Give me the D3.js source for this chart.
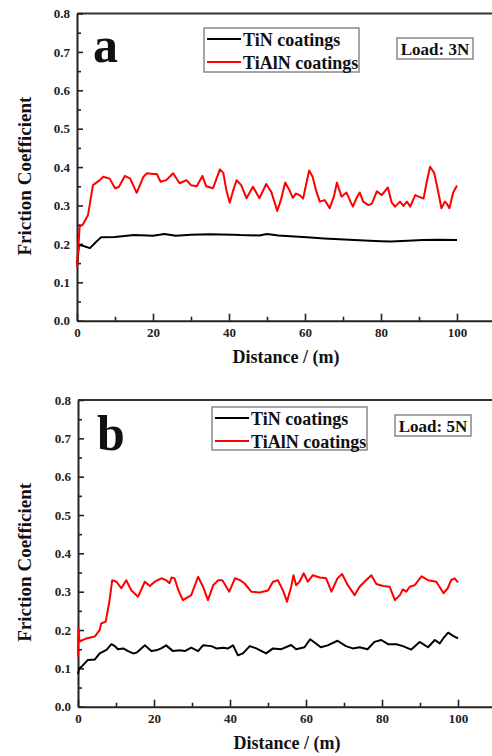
<!DOCTYPE html>
<html>
<head>
<meta charset="utf-8">
<script src="https://cdn.jsdelivr.net/npm/d3@7"></script>
<style>
body { margin:0; background:#fff; }
</style>
</head>
<body>
<div id="chart"></div>
<script>
// Series: distance (m) and friction coefficient
const distA_TiN = [0, 0.5, 1.5, 3.4, 5, 6.3, 10, 15, 20, 23, 26, 30, 35, 41, 43, 48, 50, 53, 60.5, 65, 69, 73, 77, 80, 82.6, 87, 91, 95, 100];
const fricA_TiN = [0.14, 0.197, 0.195, 0.189, 0.205, 0.217, 0.218, 0.223, 0.221, 0.226, 0.221, 0.224, 0.225, 0.224, 0.223, 0.222, 0.226, 0.222, 0.217, 0.214, 0.212, 0.21, 0.208, 0.207, 0.206, 0.208, 0.21, 0.211, 0.21];

const distA_TiAlN = [0, 0.7, 1.5, 2.9, 4.2, 6, 6.9, 8.6, 10, 11, 12.6, 14, 15.7, 17.5, 18.4, 20, 21, 22, 23.5, 25.3, 27, 28.8, 30, 31.5, 33, 34, 35.8, 37.6, 38.5, 39.3, 40.2, 41, 42, 43.2, 44.6, 46.3, 48, 49.8, 51.1, 52.7, 53.7, 54.8, 55.9, 56.8, 57.6, 58.6, 59.5, 60.4, 61.1, 62, 63, 63.9, 65.2, 66.5, 67.6, 68.4, 69.6, 70.9, 71.8, 72.6, 73.5, 74.4, 75.3, 76.7, 77.6, 78.9, 80.2, 81.8, 82.8, 83.7, 85, 85.9, 86.8, 87.7, 89, 89.9, 91.2, 92, 92.9, 94, 95.1, 95.9, 96.8, 97.3, 98, 99, 100];
const fricA_TiAlN = [0.14, 0.245, 0.25, 0.275, 0.353, 0.366, 0.375, 0.37, 0.345, 0.348, 0.377, 0.37, 0.333, 0.375, 0.384, 0.382, 0.382, 0.362, 0.366, 0.384, 0.358, 0.366, 0.353, 0.35, 0.377, 0.35, 0.345, 0.394, 0.385, 0.34, 0.307, 0.336, 0.366, 0.353, 0.319, 0.349, 0.319, 0.356, 0.336, 0.286, 0.316, 0.36, 0.34, 0.32, 0.331, 0.327, 0.318, 0.36, 0.391, 0.375, 0.336, 0.31, 0.314, 0.293, 0.323, 0.36, 0.323, 0.334, 0.314, 0.297, 0.318, 0.334, 0.31, 0.301, 0.305, 0.337, 0.327, 0.347, 0.308, 0.297, 0.31, 0.299, 0.31, 0.297, 0.327, 0.323, 0.318, 0.36, 0.401, 0.385, 0.334, 0.293, 0.31, 0.305, 0.293, 0.334, 0.352];

const distB_TiN = [0, 0.3, 0.9, 2.6, 4.4, 5.7, 7.5, 8.8, 9.7, 10.5, 11.9, 13.2, 14.5, 15.4, 17.6, 19.3, 20.6, 21.9, 23.2, 25, 26.8, 28.1, 29.8, 31.6, 32.9, 35.1, 36.4, 38.2, 39.5, 40.8, 42.1, 43.4, 45.2, 46.9, 49.5, 51.3, 53.5, 56.1, 57.4, 59.6, 61.1, 62.6, 63.9, 65.7, 68.3, 70.5, 72.3, 74.1, 76.2, 78, 79.8, 81.6, 83.8, 85.5, 87.7, 89.9, 92.1, 93.9, 95.2, 96.1, 97.4, 98.7, 100];
const fricB_TiN = [0.085, 0.1, 0.104, 0.122, 0.123, 0.139, 0.148, 0.163, 0.158, 0.15, 0.152, 0.145, 0.139, 0.141, 0.16, 0.145, 0.147, 0.152, 0.16, 0.145, 0.147, 0.145, 0.154, 0.145, 0.16, 0.158, 0.152, 0.154, 0.152, 0.16, 0.134, 0.139, 0.158, 0.152, 0.139, 0.152, 0.15, 0.161, 0.15, 0.155, 0.176, 0.165, 0.155, 0.16, 0.172, 0.158, 0.152, 0.155, 0.15, 0.169, 0.174, 0.163, 0.163, 0.158, 0.149, 0.169, 0.155, 0.174, 0.165, 0.178, 0.193, 0.185, 0.178];

const distB_TiAlN = [0, 0.1, 0.4, 2.2, 4.4, 5.7, 6.1, 7.3, 8.3, 9, 10.1, 11.4, 12.7, 14, 15.8, 17.6, 18.9, 20.2, 21.9, 23.2, 24.1, 24.6, 25.4, 26.4, 27.6, 29.8, 31.6, 32.9, 34.2, 35.6, 36.9, 38, 39.8, 41.3, 42.6, 43.8, 45.6, 47.8, 50, 51.3, 52.6, 53.9, 55, 56.1, 56.7, 57.4, 58.3, 59.4, 60.5, 61.8, 63.6, 65.3, 66.7, 68.3, 69.5, 71, 72.8, 74.1, 75.4, 77.2, 78.5, 80.3, 82, 83.4, 84.7, 85.5, 86.4, 87.3, 88.6, 90.4, 92.1, 94.3, 96.2, 97.3, 98.2, 99.1, 100];
const fricB_TiAlN = [0.13, 0.205, 0.17, 0.178, 0.183, 0.2, 0.217, 0.222, 0.277, 0.33, 0.326, 0.309, 0.33, 0.304, 0.287, 0.326, 0.315, 0.326, 0.335, 0.33, 0.322, 0.337, 0.335, 0.304, 0.278, 0.291, 0.339, 0.313, 0.278, 0.317, 0.33, 0.33, 0.3, 0.335, 0.33, 0.322, 0.3, 0.298, 0.303, 0.326, 0.33, 0.304, 0.274, 0.313, 0.343, 0.317, 0.326, 0.348, 0.326, 0.343, 0.337, 0.335, 0.3, 0.335, 0.346, 0.317, 0.291, 0.313, 0.326, 0.343, 0.32, 0.315, 0.313, 0.278, 0.291, 0.306, 0.3, 0.313, 0.317, 0.34, 0.33, 0.326, 0.296, 0.309, 0.33, 0.335, 0.324];

const seriesNames = ["TiN coatings", "TiAlN coatings"];
const seriesColors = ["#000000", "#ff0000"];
const yTicks = [0, 0.1, 0.2, 0.3, 0.4, 0.5, 0.6, 0.7, 0.8];
const xTicks = [0, 20, 40, 60, 80, 100];

const FONT = "'Liberation Serif', 'Times New Roman', 'DejaVu Serif', serif";
const W = 492, H = 756;
const svg = d3.select("#chart").append("svg")
  .attr("width", W).attr("height", H);

function zip(ds, vs) { return ds.map((d, i) => ({d: d, v: vs[i]})); }

function drawPanel(p) {
  const g = svg.append("g");
  const x = d3.scaleLinear().domain([0, 110]).range([p.left, p.left + 418]);
  const y = d3.scaleLinear().domain([0, 0.8]).range([p.bottom, p.top]);

  // frame top
  g.append("line").attr("x1", x(0)).attr("x2", x(110)).attr("y1", y(0.8)).attr("y2", y(0.8))
    .attr("stroke", "#333").attr("stroke-width", 2);

  // minor ticks
  const yMinor = d3.range(0.05, 0.8, 0.1);
  const xMinor = d3.range(10, 101, 20);
  g.append("g").attr("transform", `translate(${x(0)},0)`)
    .call(d3.axisLeft(y).tickValues(yMinor).tickSize(-4).tickFormat(""))
    .call(a => a.select(".domain").remove());
  g.append("g").attr("transform", `translate(0,${y(0)})`)
    .call(d3.axisBottom(x).tickValues(xMinor).tickSize(-4).tickFormat(""))
    .call(a => a.select(".domain").remove());

  // major axes
  const ya = g.append("g").attr("transform", `translate(${x(0)},0)`)
    .call(d3.axisLeft(y).tickValues(yTicks).tickSize(-6).tickSizeOuter(0).tickPadding(7).tickFormat(d3.format(".1f")));
  const xa = g.append("g").attr("transform", `translate(0,${y(0)})`)
    .call(d3.axisBottom(x).tickValues(xTicks).tickSize(-7).tickSizeOuter(0).tickPadding(7));
  [ya, xa].forEach(a => {
    a.attr("font-family", FONT).attr("font-weight", "bold").attr("font-size", 13);
    a.select(".domain").attr("stroke", "#222").attr("stroke-width", 2);
    a.selectAll("text").attr("fill", "#222");
  });
  g.selectAll(".tick line").attr("stroke", "#222").attr("stroke-width", 1.6);

  // data lines
  const line = d3.line().x(d => x(d.d)).y(d => y(d.v));
  p.series.forEach((s, i) => {
    g.append("path").datum(s).attr("d", line)
      .attr("fill", "none").attr("stroke", seriesColors[i])
      .attr("stroke-width", 2).attr("stroke-linejoin", "round");
  });

  const label = (sel) => sel.attr("font-family", FONT).attr("font-weight", "bold").attr("fill", "#111");

  // axis titles
  g.append("text").call(label).attr("x", (x(0) + x(110)) / 2).attr("y", p.xTitleY)
    .attr("text-anchor", "middle").attr("font-size", 18).text("Distance / (m)");
  g.append("text").call(label).attr("transform", `translate(31,${(y(0) + y(0.8)) / 2 + 9}) rotate(-90)`)
    .attr("text-anchor", "middle").attr("font-size", 19).text("Friction Coefficient");

  // panel letter
  g.append("text").call(label).attr("x", p.letterX).attr("y", p.letterY)
    .attr("font-size", 50).text(p.letter);

  // legend
  const lg = p.legend;
  g.append("rect").attr("x", lg.x).attr("y", lg.y).attr("width", lg.w).attr("height", lg.h)
    .attr("fill", "#fff").attr("stroke", "#888").attr("stroke-width", 1.5);
  seriesNames.forEach((name, i) => {
    const ly = lg.y + 11 + i * 23;
    g.append("line").attr("x1", lg.x + 3).attr("x2", lg.x + 37).attr("y1", ly).attr("y2", ly)
      .attr("stroke", seriesColors[i]).attr("stroke-width", 2);
    g.append("text").call(label).attr("x", lg.x + 39).attr("y", ly + 7)
      .attr("font-size", 18).text(name);
  });

  // load label
  const lb = p.load;
  g.append("rect").attr("x", lb.x).attr("y", lb.y).attr("width", 76).attr("height", 21)
    .attr("fill", "#fff").attr("stroke", "#888").attr("stroke-width", 1.5);
  g.append("text").call(label).attr("x", lb.x + 38).attr("y", lb.y + 16.5)
    .attr("text-anchor", "middle").attr("font-size", 17).text(lb.text);
}

drawPanel({
  left: 77, top: 13.5, bottom: 320.7, xTitleY: 363,
  letter: "a", letterX: 93, letterY: 62,
  legend: {x: 204, y: 28, w: 155, h: 44},
  load: {x: 397, y: 38, text: "Load: 3N"},
  series: [zip(distA_TiN, fricA_TiN), zip(distA_TiAlN, fricA_TiAlN)]
});

drawPanel({
  left: 78, top: 400, bottom: 706.7, xTitleY: 749,
  letter: "b", letterX: 97, letterY: 450,
  legend: {x: 212, y: 407, w: 155, h: 43},
  load: {x: 395, y: 415, text: "Load: 5N"},
  series: [zip(distB_TiN, fricB_TiN), zip(distB_TiAlN, fricB_TiAlN)]
});
</script>
</body>
</html>
